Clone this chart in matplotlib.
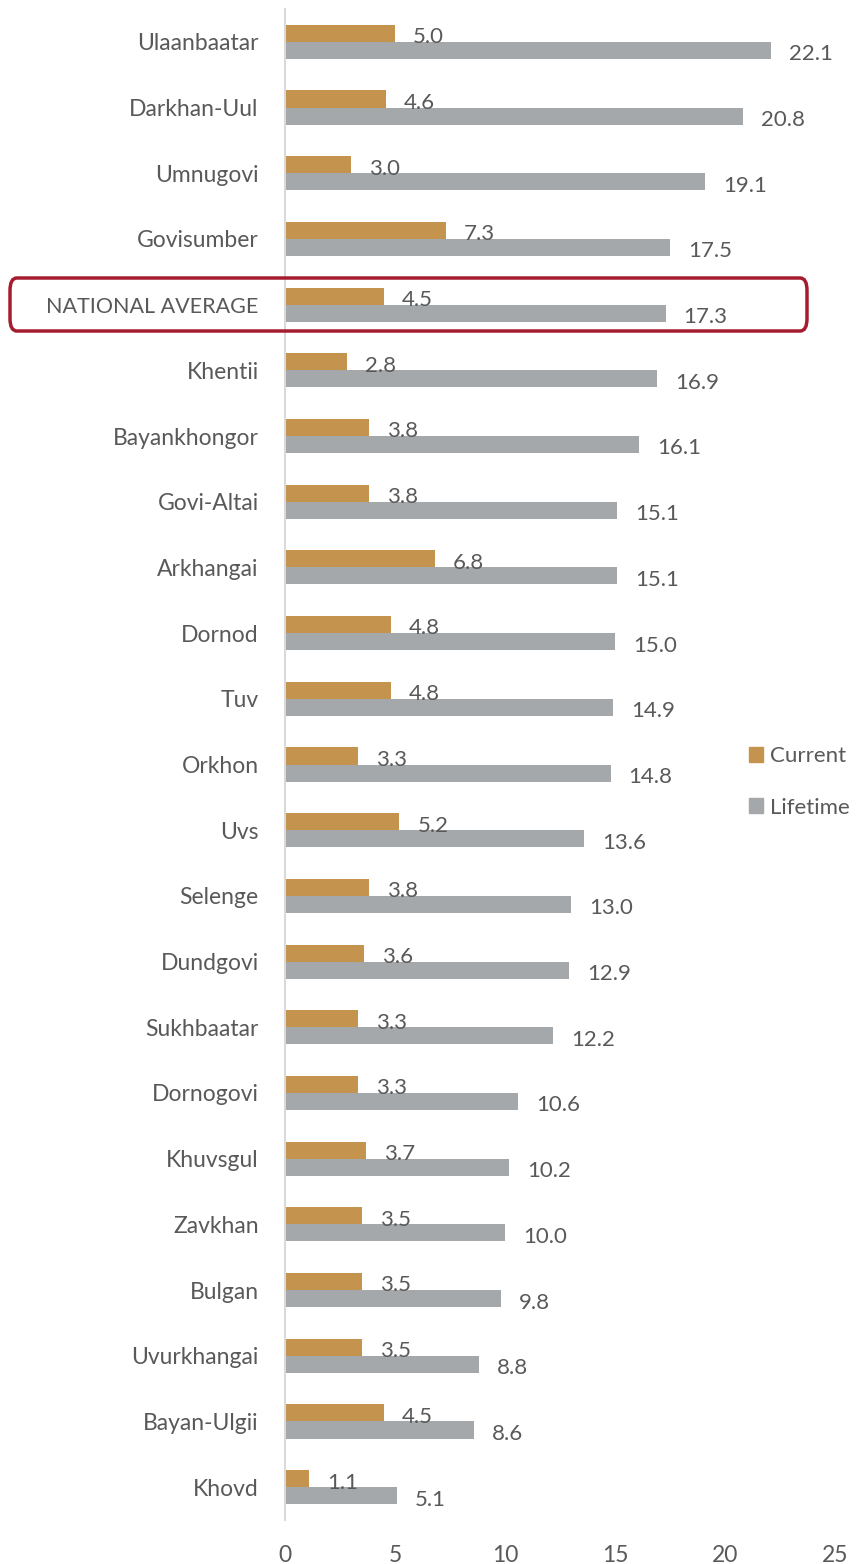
import matplotlib.pyplot as plt
import numpy as np
from matplotlib.patches import FancyBboxPatch, Patch

## Data
regions = ["Ulaanbaatar", "Darkhan-Uul", "Umnugovi", "Govisumber", "NATIONAL AVERAGE",
           "Khentii", "Bayankhongor", "Govi-Altai", "Arkhangai", "Dornod", "Tuv", "Orkhon",
           "Uvs", "Selenge", "Dundgovi", "Sukhbaatar", "Dornogovi", "Khuvsgul", "Zavkhan",
           "Bulgan", "Uvurkhangai", "Bayan-Ulgii", "Khovd"]
current = [5.0, 4.6, 3.0, 7.3, 4.5, 2.8, 3.8, 3.8, 6.8, 4.8, 4.8, 3.3,
           5.2, 3.8, 3.6, 3.3, 3.3, 3.7, 3.5, 3.5, 3.5, 4.5, 1.1]
lifetime = [22.1, 20.8, 19.1, 17.5, 17.3, 16.9, 16.1, 15.1, 15.1, 15.0, 14.9, 14.8,
            13.6, 13.0, 12.9, 12.2, 10.6, 10.2, 10.0, 9.8, 8.8, 8.6, 5.1]
xticks = [0, 5, 10, 15, 20, 25]

c_cur = '#C4944F'
c_life = '#A5A8AB'
txt = '#595959'
plt.rcParams['font.family'] = ['Lato', 'DejaVu Sans']

fig = plt.figure(figsize=(8.58, 15.64), dpi=100, facecolor='w')
ax = fig.add_axes([285/858, 1-1520/1564, 550/858, 1511/1564])

y = np.arange(len(regions))
h = 0.26
ax.barh(y - h/2, current, height=h, color=c_cur, label='Current')
ax.barh(y + h/2, lifetime, height=h, color=c_life, label='Lifetime')

# labels sit with their baseline on the lower edge of each bar
for yi, v in zip(y, current):
    ax.annotate(f"{v:.1f}", (v, yi), xytext=(13, -1), textcoords='offset points',
                va='baseline', ha='left', fontsize=16, color=txt)
for yi, v in zip(y, lifetime):
    ax.annotate(f"{v:.1f}", (v, yi + h), xytext=(13, -1), textcoords='offset points',
                va='baseline', ha='left', fontsize=16, color=txt)

ax.set_ylim(len(regions) - 0.5, -0.5)
ax.set_xlim(0, 25)
ax.set_xticks(xticks)
ax.set_yticks(y)
ax.set_yticklabels(regions)
for s in ['top', 'right', 'bottom']:
    ax.spines[s].set_visible(False)
ax.spines['left'].set_color('#D9D9D9')
ax.spines['left'].set_linewidth(1.5)
ax.tick_params(axis='both', length=0, labelsize=16.5, colors=txt)
ax.tick_params(axis='y', pad=19)
ax.tick_params(axis='x', pad=18)
for lab in ax.get_yticklabels():
    if lab.get_text() == "NATIONAL AVERAGE":
        lab.set_fontsize(15.5)

# legend outside the axes on the right
handles = [Patch(color=c_cur, label='Current'), Patch(color=c_life, label='Lifetime')]
fig.legend(handles=handles, loc='center left', bbox_to_anchor=(740/858, 1-782/1564),
           frameon=False, fontsize=16, labelcolor=txt, handlelength=0.65, handleheight=0.65,
           handletextpad=0.3, labelspacing=1.4, borderaxespad=0)

# highlight box around the national average row
box = FancyBboxPatch((10/858, 1-331/1564), 797/858, 53/1564,
                     boxstyle="round,pad=0,rounding_size=0.008",
                     transform=fig.transFigure, facecolor='none',
                     edgecolor='#A51C30', linewidth=2.5)
fig.patches.append(box)

plt.savefig("out.png", dpi=100)
